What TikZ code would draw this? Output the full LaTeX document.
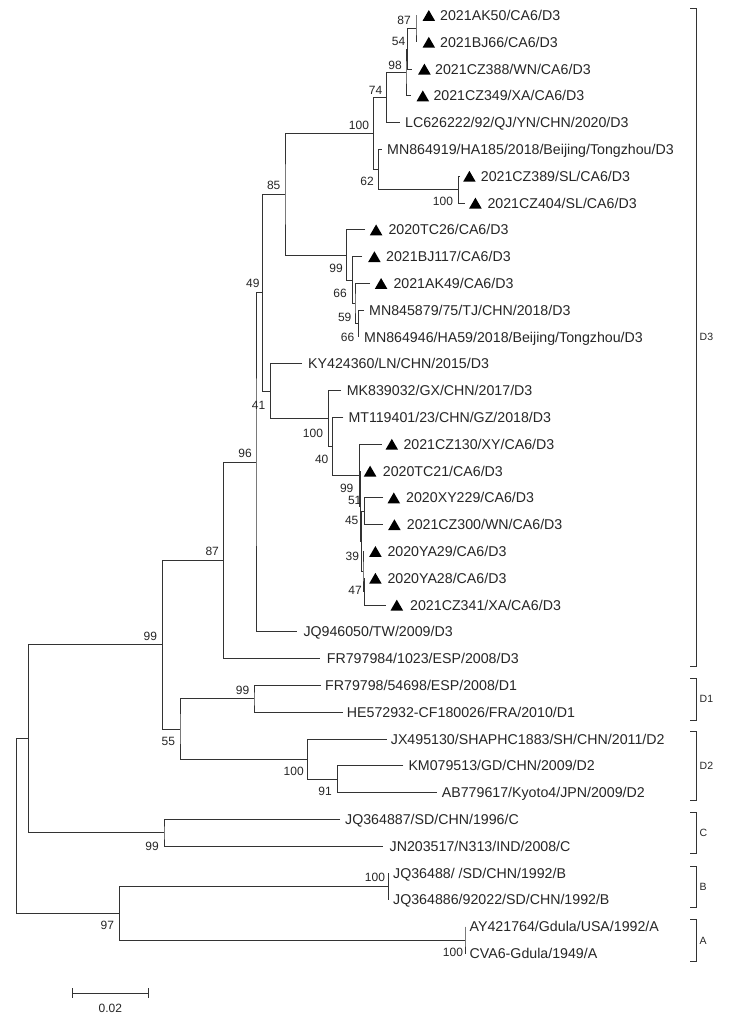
\documentclass[tikz,border=0pt]{standalone}
\usepackage{fontspec}
\setmainfont{Liberation Sans}
\usetikzlibrary{shapes.geometric}
\begin{document}
\begin{tikzpicture}[x=1pt,y=-1pt,
  br/.style={line width=0.9pt, black!80},
  leaf/.style={anchor=base west, inner sep=0pt, font=\fontsize{14.2}{16}\selectfont, text=black!85},
  boot/.style={anchor=center, inner sep=0pt, font=\fontsize{12}{14}\selectfont, text=black!85},
  clade/.style={anchor=west, inner sep=0pt, font=\fontsize{10.5}{12}\selectfont, text=black!85},
  tri/.style={regular polygon, regular polygon sides=3, fill=black, draw=none, inner sep=0pt, minimum size=14.5pt},
]
\fill[white] (0,0) rectangle (733,1022);
\useasboundingbox (0,0) rectangle (733,1022);

% ---------- leaf branch ends ----------
\coordinate (e1) at (416,15.5);
\coordinate (e2) at (416,42.3);
\coordinate (e3) at (412,69.1);
\coordinate (e4) at (410.7,95.9);
\coordinate (e5) at (400,122.7);
\coordinate (e6) at (381.7,149.5);
\coordinate (e7) at (460,176.3);
\coordinate (e8) at (464.5,203.1);
\coordinate (e9) at (365,229.9);
\coordinate (e10) at (362,256.7);
\coordinate (e11) at (370,283.5);
\coordinate (e12) at (364,310.3);
\coordinate (e13) at (358.3,337.1);
\coordinate (e14) at (302,363.9);
\coordinate (e15) at (341,390.7);
\coordinate (e16) at (343.3,417.5);
\coordinate (e17) at (381.7,444.3);
\coordinate (e18) at (360.5,471.1);
\coordinate (e19) at (383,497.9);
\coordinate (e20) at (383,524.7);
\coordinate (e21) at (364,551.5);
\coordinate (e22) at (364.5,578.3);
\coordinate (e23) at (386,605.1);
\coordinate (e24) at (296.7,631.9);
\coordinate (e25) at (320,658.7);
\coordinate (e26) at (320.7,685.5);
\coordinate (e27) at (343.3,712.3);
\coordinate (e28) at (386.7,739.1);
\coordinate (e29) at (403.3,765.9);
\coordinate (e30) at (436.7,792.7);
\coordinate (e31) at (340,819.5);
\coordinate (e32) at (383,846.3);
\coordinate (e33) at (388.5,873.1);
\coordinate (e34) at (388.5,899.9);
\coordinate (e35) at (465,926.7);
\coordinate (e36) at (465,953.5);

% ---------- internal nodes ----------
\coordinate (n87) at (416,28.9);
\coordinate (n54) at (407.5,49.0);
\coordinate (n98) at (406,72.45);
\coordinate (n74) at (386.7,97.6);
\coordinate (n100b) at (458.3,189.7);
\coordinate (n62) at (378.3,169.6);
\coordinate (n100a) at (373.3,133.6);
\coordinate (n66c) at (358.3,323.7);
\coordinate (n59) at (355,303.6);
\coordinate (n66a) at (352.7,280.15);
\coordinate (n99a) at (346.7,255.0);
\coordinate (n85) at (285,194.3);
\coordinate (n51) at (364.3,511.3);
\coordinate (n47) at (364.5,591.7);
\coordinate (n39) at (363,571.6);
\coordinate (n45) at (361.7,541.45);
\coordinate (nX) at (360.5,506.3);
\coordinate (n99b) at (359.3,475.3);
\coordinate (n40) at (332.7,446.4);
\coordinate (n100c) at (328.3,418.55);
\coordinate (n41) at (270.3,391.2);
\coordinate (n49) at (262.7,292.75);
\coordinate (n96) at (256,462.3);
\coordinate (n87b) at (223.3,560.5);
\coordinate (n99d) at (254,698.9);
\coordinate (n91) at (337.3,779.3);
\coordinate (n100d) at (307.3,759.2);
\coordinate (n55) at (180,729.05);
\coordinate (n99r) at (162.3,644.8);
\coordinate (n99c) at (164,832.9);
\coordinate (n28) at (28.3,738.85);
\coordinate (n100B) at (388.5,886.5);
\coordinate (n100A) at (465,940.1);
\coordinate (n97) at (119.5,913.3);
\coordinate (root) at (16.7,826.1);

% ---------- branches ----------
\draw[br] (e1) -| (n87) |- (e2);
\draw[br] (n87) -| (n54) |- (e3);
\draw[br] (n54) -| (n98) |- (e4);
\draw[br] (n98) -| (n74) |- (e5);
\draw[br] (e7) -| (n100b) |- (e8);
\draw[br] (e6) -| (n62) |- (n100b);
\draw[br] (n74) -| (n100a) |- (n62);
\draw[br] (e12) -| (n66c) |- (e13);
\draw[br] (e11) -| (n59) |- (n66c);
\draw[br] (e10) -| (n66a) |- (n59);
\draw[br] (e9) -| (n99a) |- (n66a);
\draw[br] (n100a) -| (n85) |- (n99a);
\draw[br] (e19) -| (n51) |- (e20);
\draw[br] (e22) -| (n47) |- (e23);
\draw[br] (e21) -| (n39) |- (n47);
\draw[br] (n51) -| (n45) |- (n39);
\draw[br] (e18) -| (nX) |- (n45);
\draw[br] (e17) -| (n99b) |- (nX);
\draw[br] (e16) -| (n40) |- (n99b);
\draw[br] (e15) -| (n100c) |- (n40);
\draw[br] (e14) -| (n41) |- (n100c);
\draw[br] (n85) -| (n49) |- (n41);
\draw[br] (n49) -| (n96) |- (e24);
\draw[br] (n96) -| (n87b) |- (e25);
\draw[br] (e26) -| (n99d) |- (e27);
\draw[br] (e29) -| (n91) |- (e30);
\draw[br] (e28) -| (n100d) |- (n91);
\draw[br] (n99d) -| (n55) |- (n100d);
\draw[br] (n87b) -| (n99r) |- (n55);
\draw[br] (e31) -| (n99c) |- (e32);
\draw[br] (n99r) -| (n28) |- (n99c);
\draw[br] (e33) -| (n100B) |- (e34);
\draw[br] (e35) -| (n100A) |- (e36);
\draw[br] (n100B) -| (n97) |- (n100A);
\draw[br] (n28) -| (root) |- (n97);

% ---------- triangles ----------
\node[tri] (t1) at (428.8,17.3) {};
\node[tri] (t2) at (428.8,44.1) {};
\node[tri] (t3) at (424.4,70.9) {};
\node[tri] (t4) at (422.8,97.7) {};
\node[tri] (t7) at (469.4,178.1) {};
\node[tri] (t8) at (475.4,204.9) {};
\node[tri] (t9) at (376.1,231.7) {};
\node[tri] (t10) at (374.4,258.5) {};
\node[tri] (t11) at (381.1,285.3) {};
\node[tri] (t17) at (391.8,446.1) {};
\node[tri] (t18) at (370.1,472.9) {};
\node[tri] (t19) at (393.8,499.7) {};
\node[tri] (t20) at (394.4,526.5) {};
\node[tri] (t21) at (375.4,553.3) {};
\node[tri] (t22) at (375.4,580.1) {};
\node[tri] (t23) at (396.8,606.9) {};

% ---------- leaf labels ----------
\node[leaf] (l1) at (440,20.5) {2021AK50/CA6/D3};
\node[leaf] (l2) at (440,47.3) {2021BJ66/CA6/D3};
\node[leaf] (l3) at (435,74.1) {2021CZ388/WN/CA6/D3};
\node[leaf] (l4) at (433.3,100.9) {2021CZ349/XA/CA6/D3};
\node[leaf] (l5) at (405,127.7) {LC626222/92/QJ/YN/CHN/2020/D3};
\node[leaf] (l6) at (387,154.5) {MN864919/HA185/2018/Beijing/Tongzhou/D3};
\node[leaf] (l7) at (480.7,181.3) {2021CZ389/SL/CA6/D3};
\node[leaf] (l8) at (487.3,208.1) {2021CZ404/SL/CA6/D3};
\node[leaf] (l9) at (388.3,234.9) {2020TC26/CA6/D3};
\node[leaf] (l10) at (386,261.7) {2021BJ117/CA6/D3};
\node[leaf] (l11) at (393.3,288.5) {2021AK49/CA6/D3};
\node[leaf] (l12) at (369,315.3) {MN845879/75/TJ/CHN/2018/D3};
\node[leaf] (l13) at (364,342.1) {MN864946/HA59/2018/Beijing/Tongzhou/D3};
\node[leaf] (l14) at (308,368.9) {KY424360/LN/CHN/2015/D3};
\node[leaf] (l15) at (346.7,395.7) {MK839032/GX/CHN/2017/D3};
\node[leaf] (l16) at (348.3,422.5) {MT119401/23/CHN/GZ/2018/D3};
\node[leaf] (l17) at (403.3,449.3) {2021CZ130/XY/CA6/D3};
\node[leaf] (l18) at (382.7,476.1) {2020TC21/CA6/D3};
\node[leaf] (l19) at (406,502.9) {2020XY229/CA6/D3};
\node[leaf] (l20) at (406.7,529.7) {2021CZ300/WN/CA6/D3};
\node[leaf] (l21) at (387.3,556.5) {2020YA29/CA6/D3};
\node[leaf] (l22) at (387.3,583.3) {2020YA28/CA6/D3};
\node[leaf] (l23) at (410,610.1) {2021CZ341/XA/CA6/D3};
\node[leaf] (l24) at (303.3,636.9) {JQ946050/TW/2009/D3};
\node[leaf] (l25) at (326.7,663.7) {FR797984/1023/ESP/2008/D3};
\node[leaf] (l26) at (325,690.5) {FR79798/54698/ESP/2008/D1};
\node[leaf] (l27) at (346.7,717.3) {HE572932-CF180026/FRA/2010/D1};
\node[leaf] (l28) at (390.7,744.1) {JX495130/SHAPHC1883/SH/CHN/2011/D2};
\node[leaf] (l29) at (408.3,770.9) {KM079513/GD/CHN/2009/D2};
\node[leaf] (l30) at (441.7,797.7) {AB779617/Kyoto4/JPN/2009/D2};
\node[leaf] (l31) at (345,824.5) {JQ364887/SD/CHN/1996/C};
\node[leaf] (l32) at (389.5,851.3) {JN203517/N313/IND/2008/C};
\node[leaf] (l33) at (393,878.1) {JQ36488/ /SD/CHN/1992/B};
\node[leaf] (l34) at (393,904.9) {JQ364886/92022/SD/CHN/1992/B};
\node[leaf] (l35) at (469.5,931.7) {AY421764/Gdula/USA/1992/A};
\node[leaf] (l36) at (469.5,958.5) {CVA6-Gdula/1949/A};

% ---------- bootstrap values ----------
\node[boot] (b87) at (404,20.5) {87};
\node[boot] (b54) at (398.5,41) {54};
\node[boot] (b98) at (395,65) {98};
\node[boot] (b74) at (375.5,90.5) {74};
\node[boot] (b100a) at (359,125) {100};
\node[boot] (b62) at (367,181.7) {62};
\node[boot] (b100b) at (443,201.7) {100};
\node[boot] (b85) at (273.7,185.3) {85};
\node[boot] (b49) at (252.8,283) {49};
\node[boot] (b99a) at (336,268) {99};
\node[boot] (b66a) at (340,293) {66};
\node[boot] (b59) at (344.7,317) {59};
\node[boot] (b66c) at (347.5,337) {66};
\node[boot] (b41) at (258.5,405) {41};
\node[boot] (b100c) at (313,433) {100};
\node[boot] (b40) at (321.7,459) {40};
\node[boot] (b96) at (245,453.3) {96};
\node[boot] (b99b) at (346.7,488.3) {99};
\node[boot] (b51) at (354.7,500) {51};
\node[boot] (b45) at (351.7,520.5) {45};
\node[boot] (b39) at (352.3,556.7) {39};
\node[boot] (b47) at (355,590) {47};
\node[boot] (b87b) at (212.2,551.7) {87};
\node[boot] (b99r) at (150.3,636) {99};
\node[boot] (b99d) at (242.5,690) {99};
\node[boot] (b55) at (168.3,741.7) {55};
\node[boot] (b100d) at (293.7,771.3) {100};
\node[boot] (b91) at (325,791.7) {91};
\node[boot] (b99c) at (152,846) {99};
\node[boot] (b100B) at (375,877.7) {100};
\node[boot] (b97) at (107.3,925.3) {97};
\node[boot] (b100A) at (453,952) {100};

% ---------- clade brackets ----------
\coordinate (d3t) at (690,8);   \coordinate (d3b) at (690,666);
\coordinate (d1t) at (690,678.3); \coordinate (d1b) at (690,720);
\coordinate (d2t) at (690,731); \coordinate (d2b) at (690,800);
\coordinate (ct) at (690,812.7); \coordinate (cb) at (690,853.3);
\coordinate (bt) at (690,866.7); \coordinate (bb) at (690,907.3);
\coordinate (at) at (690,919.3); \coordinate (ab) at (690,961.7);
\draw[br] (d3t) -- ++(6,0) |- (d3b);
\draw[br] (d1t) -- ++(6,0) |- (d1b);
\draw[br] (d2t) -- ++(6,0) |- (d2b);
\draw[br] (ct) -- ++(6,0) |- (cb);
\draw[br] (bt) -- ++(6,0) |- (bb);
\draw[br] (at) -- ++(6,0) |- (ab);
\node[clade] (cD3) at (699.5,337) {D3};
\node[clade] (cD1) at (699.5,699.2) {D1};
\node[clade] (cD2) at (699.5,765.5) {D2};
\node[clade] (cC) at (699.5,833) {C};
\node[clade] (cB) at (699.5,887) {B};
\node[clade] (cA) at (699.5,940.5) {A};

% ---------- scale bar ----------
\coordinate (sbl) at (72.3,993);
\coordinate (sbr) at (148.3,993);
\draw[br] (sbl) -- (sbr);
\draw[br] (sbl) ++(0,-5) -- ++(0,10);
\draw[br] (sbr) ++(0,-5) -- ++(0,10);
\node[boot] (sbt) at (110.3,1008) {0.02};
\end{tikzpicture}
\end{document}
